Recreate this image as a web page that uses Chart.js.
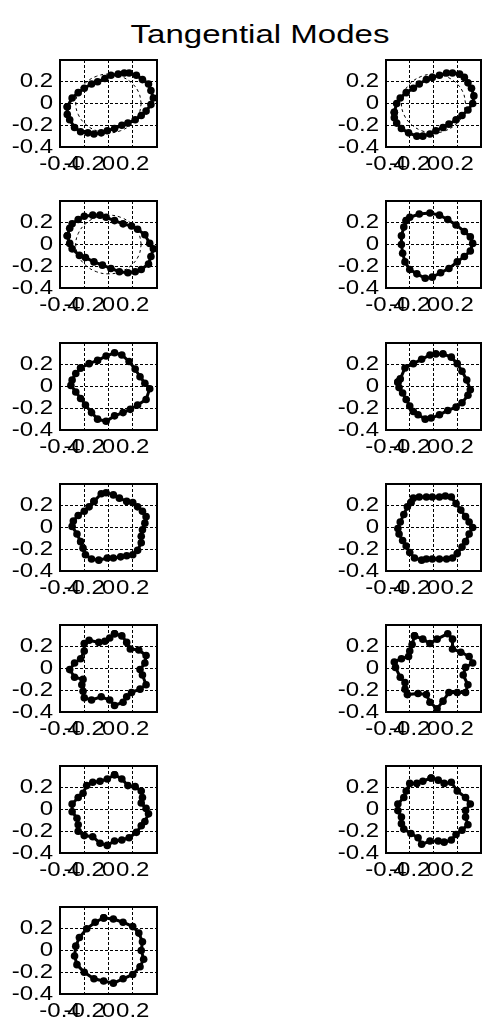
<!DOCTYPE html>
<html>
<head>
<meta charset="utf-8">
<script src="https://cdn.jsdelivr.net/npm/chart.js"></script>
<style>
  body{margin:0;background:#fff;width:482px;height:1032px;position:relative;overflow:hidden;}
  #title{position:absolute;left:0;width:520px;top:19px;line-height:26px;text-align:center;
    font:26px "Liberation Sans",Arial,sans-serif;color:#000;transform:scaleX(1.27);transform-origin:260px 0;}
  canvas{position:absolute;}
</style>
</head>
<body>
<div id="title">Tangential Modes</div>
<script>
// axis ticks shared by every panel
const tickVals=[-0.4,-0.2,0,0.2];
const tickLabels=["-0.4","-0.2","0","0.2"];

// dashed reference ring (first three panels)
const ringX=[0.27,0.25,0.19,0.10,0,-0.10,-0.19,-0.25,-0.27,-0.25,-0.19,-0.10,0,0.10,0.19,0.25];
const ringY=[0,0.10,0.19,0.25,0.27,0.25,0.19,0.10,0,-0.10,-0.19,-0.25,-0.27,-0.25,-0.19,-0.10];

// mode shapes
const m1X=[-0.34,-0.30,-0.25,-0.20,-0.14,-0.09,-0.03,0.02,0.08,0.13,0.17,0.23,0.28,0.33,0.35,0.37,0.35,0.31,0.27,0.22,0.16,0.11,0.05,-0.01,-0.06,-0.12,-0.17,-0.23,-0.28,-0.32,-0.34];
const m1Y=[-0.03,0.05,0.10,0.14,0.18,0.20,0.23,0.26,0.27,0.28,0.28,0.26,0.22,0.18,0.12,0.05,-0.01,-0.07,-0.11,-0.15,-0.18,-0.20,-0.23,-0.25,-0.27,-0.28,-0.27,-0.26,-0.22,-0.15,-0.10];
const m2X=[-0.33,-0.31,-0.28,-0.23,-0.17,-0.12,-0.06,-0.01,0.05,0.11,0.16,0.22,0.26,0.29,0.32,0.34,0.33,0.29,0.24,0.19,0.13,0.08,0.02,-0.03,-0.09,-0.14,-0.21,-0.27,-0.31,-0.33];
const m2Y=[-0.08,0,0.05,0.10,0.14,0.18,0.22,0.24,0.26,0.28,0.28,0.27,0.24,0.19,0.14,0.07,0,-0.06,-0.11,-0.15,-0.19,-0.22,-0.25,-0.28,-0.30,-0.30,-0.27,-0.23,-0.18,-0.13];
const m3X=[-0.34,-0.32,-0.30,-0.25,-0.20,-0.13,-0.07,-0.02,0.05,0.12,0.19,0.24,0.30,0.34,0.37,0.35,0.33,0.27,0.22,0.16,0.09,0.02,-0.05,-0.12,-0.19,-0.24,-0.30,-0.32];
const m3Y=[0.08,0.15,0.19,0.23,0.26,0.27,0.27,0.25,0.22,0.19,0.17,0.14,0.09,0.01,-0.04,-0.11,-0.18,-0.23,-0.25,-0.26,-0.25,-0.22,-0.19,-0.16,-0.12,-0.10,-0.04,0.01];
const m4X=[-0.23,-0.20,-0.12,-0.03,0.05,0.12,0.19,0.26,0.31,0.33,0.31,0.26,0.20,0.13,0.06,-0.01,-0.07,-0.14,-0.20,-0.24,-0.26,-0.27,-0.27,-0.25];
const m4Y=[0.22,0.25,0.28,0.29,0.27,0.23,0.18,0.12,0.07,0.01,-0.06,-0.11,-0.16,-0.22,-0.26,-0.30,-0.31,-0.27,-0.23,-0.16,-0.08,0,0.08,0.16];
const m5X=[-0.23,-0.16,-0.09,-0.02,0.05,0.11,0.17,0.22,0.26,0.30,0.34,0.31,0.24,0.18,0.12,0.05,-0.02,-0.09,-0.14,-0.19,-0.23,-0.27,-0.31,-0.30,-0.27];
const m5Y=[0.17,0.21,0.24,0.28,0.31,0.29,0.23,0.16,0.09,0.03,-0.02,-0.12,-0.17,-0.21,-0.24,-0.27,-0.32,-0.30,-0.24,-0.17,-0.11,-0.05,0.01,0.06,0.12];
const m6X=[-0.30,-0.28,-0.24,-0.17,-0.10,-0.03,0.02,0.08,0.15,0.20,0.24,0.28,0.31,0.29,0.24,0.19,0.12,0.05,-0.02,-0.07,-0.13,-0.17,-0.20,-0.23,-0.26,-0.29];
const m6Y=[0.04,0.07,0.17,0.21,0.25,0.29,0.30,0.30,0.27,0.21,0.14,0.06,-0.03,-0.08,-0.15,-0.19,-0.22,-0.26,-0.29,-0.30,-0.26,-0.23,-0.18,-0.12,-0.06,-0.01];
const m7X=[-0.12,-0.06,-0.02,0.04,0.09,0.15,0.20,0.24,0.28,0.31,0.30,0.28,0.27,0.27,0.24,0.20,0.15,0.10,0.04,-0.01,-0.08,-0.14,-0.19,-0.21,-0.23,-0.26,-0.30,-0.29,-0.25,-0.20,-0.16];
const m7Y=[0.24,0.31,0.32,0.30,0.27,0.24,0.23,0.19,0.15,0.10,0.04,-0.02,-0.08,-0.14,-0.21,-0.25,-0.26,-0.27,-0.28,-0.28,-0.30,-0.29,-0.25,-0.19,-0.13,-0.06,0.01,0.06,0.11,0.15,0.19];
const m8X=[-0.19,-0.17,-0.12,-0.06,-0.01,0.05,0.10,0.15,0.19,0.23,0.27,0.30,0.33,0.30,0.27,0.24,0.20,0.16,0.11,0.05,-0.01,-0.06,-0.10,-0.16,-0.20,-0.23,-0.26,-0.29,-0.30,-0.28,-0.25,-0.22];
const m8Y=[0.23,0.27,0.28,0.28,0.28,0.28,0.29,0.28,0.22,0.16,0.10,0.05,0,-0.06,-0.13,-0.18,-0.24,-0.28,-0.29,-0.29,-0.29,-0.29,-0.30,-0.28,-0.23,-0.17,-0.12,-0.06,-0.01,0.05,0.12,0.19];
const m9X=[0.05,0.11,0.15,0.18,0.25,0.31,0.30,0.26,0.28,0.31,0.26,0.19,0.15,0.12,0.05,0.01,-0.06,-0.14,-0.20,-0.21,-0.22,-0.21,-0.28,-0.32,-0.28,-0.23,-0.20,-0.20,-0.16,-0.08,-0.03,0.01];
const m9Y=[0.32,0.30,0.24,0.18,0.17,0.12,0.05,-0.01,-0.06,-0.15,-0.19,-0.22,-0.26,-0.31,-0.34,-0.29,-0.26,-0.29,-0.27,-0.21,-0.15,-0.10,-0.08,-0.01,0.05,0.09,0.16,0.23,0.26,0.24,0.25,0.28];
const m10X=[-0.16,-0.09,-0.03,0.03,0.12,0.16,0.16,0.23,0.30,0.33,0.27,0.25,0.29,0.27,0.20,0.13,0.08,0.03,-0.03,-0.06,-0.13,-0.22,-0.24,-0.24,-0.28,-0.32,-0.33,-0.27,-0.21,-0.20,-0.18];
const m10Y=[0.30,0.27,0.23,0.27,0.32,0.27,0.18,0.15,0.11,0.05,0.01,-0.06,-0.15,-0.22,-0.22,-0.22,-0.30,-0.37,-0.31,-0.24,-0.23,-0.24,-0.19,-0.13,-0.08,0.01,0.06,0.09,0.11,0.16,0.22];
const m11X=[0.05,0.11,0.16,0.22,0.27,0.28,0.27,0.31,0.33,0.30,0.27,0.23,0.17,0.11,0.05,-0.01,-0.07,-0.13,-0.20,-0.25,-0.25,-0.26,-0.30,-0.30,-0.25,-0.21,-0.18,-0.13,-0.07,-0.01];
const m11Y=[0.32,0.28,0.22,0.21,0.17,0.11,0.06,0.01,-0.04,-0.11,-0.15,-0.21,-0.26,-0.28,-0.29,-0.33,-0.31,-0.25,-0.24,-0.20,-0.14,-0.08,-0.02,0.05,0.11,0.15,0.22,0.25,0.26,0.28];
const m12X=[-0.02,0.04,0.09,0.15,0.20,0.27,0.31,0.27,0.27,0.29,0.24,0.19,0.15,0.09,0.04,-0.03,-0.10,-0.13,-0.19,-0.25,-0.27,-0.27,-0.30,-0.30,-0.25,-0.23,-0.20,-0.14,-0.09];
const m12Y=[0.29,0.27,0.24,0.25,0.17,0.11,0.05,-0.01,-0.07,-0.14,-0.19,-0.23,-0.28,-0.30,-0.29,-0.29,-0.32,-0.26,-0.22,-0.18,-0.13,-0.07,-0.01,0.05,0.11,0.17,0.24,0.24,0.26];
const m13X=[-0.04,0.04,0.12,0.20,0.25,0.28,0.27,0.29,0.26,0.20,0.12,0.04,-0.04,-0.12,-0.20,-0.26,-0.28,-0.27,-0.24,-0.18,-0.11];
const m13Y=[0.30,0.29,0.26,0.22,0.16,0.08,0,-0.08,-0.15,-0.22,-0.26,-0.30,-0.28,-0.26,-0.20,-0.13,-0.05,0.04,0.12,0.20,0.26];

const modes=[[m1X,m1Y,true],[m2X,m2Y,true],[m3X,m3Y,true],[m4X,m4Y],[m5X,m5Y],[m6X,m6Y],[m7X,m7Y],
  [m8X,m8Y],[m9X,m9Y],[m10X,m10Y],[m11X,m11Y],[m12X,m12Y],[m13X,m13Y]];

// layout of the subplot boxes
const colLeft=[60,386], colW=[97,95];
const rowTop=[49,190,332,473,614,755,896];
const boxH=98, padL=60, padT=8, padB=30;
const tickFont={family:"Liberation Sans",size:20};
const textStretch=1.2; // the labels in the picture are drawn wide

const boxPlugin={id:'box',afterDraw(c){
  const a=c.chartArea, ctx=c.ctx;
  ctx.save(); ctx.strokeStyle='#000'; ctx.lineWidth=2;
  ctx.strokeRect(a.left,a.top,a.right-a.left,a.bottom-a.top);
  ctx.restore();
}};

// widen tick text around its anchor point
const stretchPlugin={id:'stretch',beforeDraw(c){
  const ctx=c.ctx;
  if(ctx._wide) return;
  const fill=ctx.fillText;
  ctx.fillText=function(t,x,y){
    this.save(); this.translate(x,y); this.scale(textStretch,1);
    fill.call(this,t,0,0); this.restore();
  };
  ctx._wide=true;
}};

function loop(xs,ys){
  const p=xs.map((x,k)=>({x:x,y:ys[k]}));
  p.push(p[0]);
  return p;
}

function axis(pos,fitProp,fitVal,pad){
  return {
    type:'linear',position:pos,min:-0.4,max:0.4,
    afterBuildTicks:s=>{s.ticks=tickVals.map(v=>({value:v}));},
    afterFit:s=>{s[fitProp]=fitVal;},
    ticks:{autoSkip:false,maxRotation:0,color:'#000',font:tickFont,padding:pad,
      callback:(v)=>tickLabels[tickVals.indexOf(v)]},
    grid:{color:'#000',lineWidth:1,drawTicks:false},
    border:{display:false,dash:[3,2]}
  };
}

modes.forEach((m,i)=>{
  const col=i%2,row=Math.floor(i/2);
  const W=colW[col];
  const cv=document.createElement('canvas');
  cv.width=padL+W+4; cv.height=padT+boxH+padB;
  cv.style.left=(colLeft[col]-padL)+'px';
  cv.style.top=(rowTop[row]-padT)+'px';
  cv.style.width=cv.width+'px'; cv.style.height=cv.height+'px';
  document.body.appendChild(cv);

  const ds=[];
  if(m[2]) ds.push({data:loop(ringX,ringY),showLine:true,borderColor:'#000',borderWidth:1,
    borderDash:[3,3],pointRadius:0,tension:0.4});
  ds.push({data:loop(m[0],m[1]),showLine:true,borderColor:'#000',borderWidth:3,
    pointRadius:3.8,pointBorderWidth:0,pointBackgroundColor:'#000'});

  new Chart(cv,{
    type:'scatter',
    data:{datasets:ds},
    options:{
      responsive:false,animation:false,devicePixelRatio:1,
      layout:{padding:{left:0,top:padT,right:4,bottom:0}},
      plugins:{legend:{display:false},tooltip:{enabled:false}},
      scales:{x:axis('bottom','height',padB,5),y:axis('left','width',padL,7)}
    },
    plugins:[stretchPlugin,boxPlugin]
  });
});
</script>
</body>
</html>
